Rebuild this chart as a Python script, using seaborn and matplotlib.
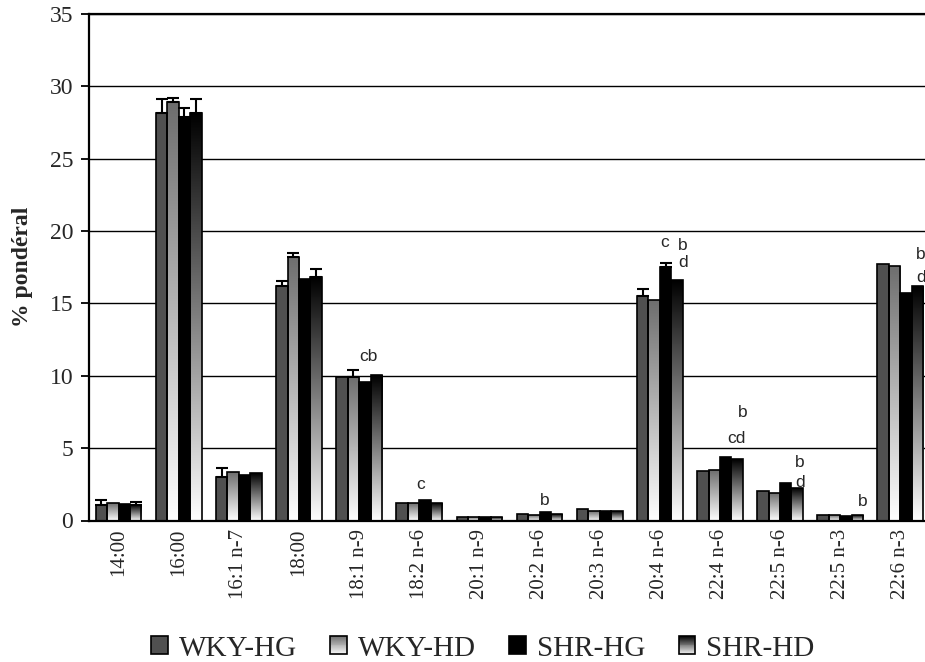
import numpy as np
import pandas as pd
import matplotlib
matplotlib.use('Agg')
import matplotlib.pyplot as plt
import seaborn as sns
from matplotlib.patches import Rectangle
from matplotlib.colors import LinearSegmentedColormap
from matplotlib.legend_handler import HandlerBase

acides = ['14:00', '16:00', '16:1 n-7', '18:00', '18:1 n-9', '18:2 n-6', '20:1 n-9',
          '20:2 n-6', '20:3 n-6', '20:4 n-6', '22:4 n-6', '22:5 n-6', '22:5 n-3', '22:6 n-3']
groupes = ['WKY-HG', 'WKY-HD', 'SHR-HG', 'SHR-HD']

# valeurs (% pondéral)
wky_hg = [1.07, 28.18, 3.03, 16.23, 9.94, 1.19, 0.25, 0.45, 0.80, 15.51, 3.44, 2.06, 0.40, 17.71]
wky_hd = [1.23, 28.94, 3.37, 18.23, 9.94, 1.19, 0.25, 0.37, 0.68, 15.24, 3.49, 1.88, 0.40, 17.61]
shr_hg = [1.14, 27.86, 3.14, 16.67, 9.59, 1.42, 0.25, 0.57, 0.68, 17.50, 4.41, 2.57, 0.30, 15.74]
shr_hd = [1.07, 28.14, 3.26, 16.85, 10.06, 1.23, 0.25, 0.45, 0.68, 16.62, 4.23, 2.23, 0.35, 16.23]

# erreurs (seule la partie haute est visible)
err_wky_hg = [0.35, 0.92, 0.60, 0.34, 0, 0, 0, 0, 0, 0.47, 0, 0, 0, 0]
err_wky_hd = [0, 0.28, 0, 0.24, 0.46, 0, 0, 0, 0, 0, 0, 0, 0, 0]
err_shr_hg = [0, 0.67, 0, 0, 0, 0, 0, 0, 0, 0.28, 0, 0, 0, 0]
err_shr_hd = [0.23, 0.99, 0, 0.53, 0, 0, 0, 0, 0, 0, 0, 0, 0, 0]

# lettres de signification
lettres = ['cb', 'c', 'b', 'c', 'b', 'd', 'cd', 'b', 'b', 'd', 'b', 'b', 'd']
lettres_acide = [4, 5, 7, 9, 9, 9, 10, 10, 11, 11, 12, 13, 13]
lettres_dx = [0.16, 0.03, 0.09, 0.08, 0.38, 0.38, 0.28, 0.38, 0.33, 0.33, 0.38, 0.34, 0.34]
lettres_y = [11.3, 2.52, 1.35, 19.18, 18.97, 17.8, 5.7, 7.43, 4.04, 2.66, 1.28, 18.35, 16.76]

couleurs = {'WKY-HG': '#505050', 'WKY-HD': '#6e6e6e', 'SHR-HG': '#000000', 'SHR-HD': '#000000'}
degrades = ['WKY-HD', 'SHR-HD']

df = pd.DataFrame({
    'acide': acides * 4,
    'groupe': np.repeat(groupes, len(acides)),
    'valeur': wky_hg + wky_hd + shr_hg + shr_hd,
})
erreurs = [err_wky_hg, err_wky_hd, err_shr_hg, err_shr_hd]

sns.set_style('white')
serif = 'Liberation Serif'

fig = plt.figure(figsize=(9.25, 6.62), dpi=100)
ax = fig.add_axes([88.5 / 925, 1 - 520.5 / 662, 1 - 88.5 / 925, 506.5 / 662])

sns.barplot(data=df, x='acide', y='valeur', hue='groupe', order=acides, hue_order=groupes,
            palette=couleurs, width=0.76, saturation=1, edgecolor='black', linewidth=1.2,
            errorbar=None, legend=False, ax=ax)

# dégradés (couleur en haut -> blanc en bas)
grad = np.linspace(0, 1, 256).reshape(-1, 1)
for g, cont in zip(groupes, ax.containers):
    for p in cont.patches:
        p.set_zorder(2.1)
    if g not in degrades:
        continue
    cmap = LinearSegmentedColormap.from_list(g, ['white', couleurs[g]])
    for p in cont.patches:
        x0, w, h = p.get_x(), p.get_width(), p.get_height()
        ax.imshow(grad, extent=[x0, x0 + w, 0, h], origin='lower', cmap=cmap,
                  aspect='auto', zorder=2, interpolation='bilinear')
        p.set_facecolor('none')

# barres d'erreur
for cont, err in zip(ax.containers, erreurs):
    xs = [p.get_x() + p.get_width() / 2 for p in cont.patches]
    hs = [p.get_height() for p in cont.patches]
    sel = [i for i, e in enumerate(err) if e > 0]
    ax.errorbar([xs[i] for i in sel], [hs[i] for i in sel],
                yerr=[[0] * len(sel), [err[i] for i in sel]], fmt='none', ecolor='black',
                elinewidth=1.5, capsize=4.3, capthick=1.5, zorder=3)

for t, i, dx, y in zip(lettres, lettres_acide, lettres_dx, lettres_y):
    ax.text(i + dx, y, t, ha='center', va='center', fontsize=12.5, family='Liberation Sans')

ax.set_xlim(-0.5, 13.41)
ax.set_ylim(0, 35)
ax.set_yticks(range(0, 36, 5))
ax.yaxis.grid(True, color='black', linewidth=1)
ax.set_axisbelow(True)
for s in ['left', 'bottom', 'top']:
    ax.spines[s].set_color('black')
    ax.spines[s].set_linewidth(1.6)
ax.spines['right'].set_visible(False)

ax.set_xticks(range(len(acides)))
ax.set_xticklabels(acides, rotation=90, fontsize=15, family=serif)
ax.set_xticks(np.arange(0.5, 13, 1), minor=True)
ax.tick_params(axis='x', which='major', length=0, pad=6)
ax.tick_params(axis='x', which='minor', length=6, width=1.3, color='black', direction='out')
ax.tick_params(axis='y', length=6, width=1.3, color='black', direction='out', pad=5, left=True)
for lab in ax.get_yticklabels():
    lab.set_fontsize(17)
    lab.set_family(serif)

ax.set_xlabel('')
ax.set_ylabel('% pondéral', fontsize=17, fontweight='bold', family=serif, labelpad=12)


class HandlerDegrade(HandlerBase):
    def __init__(self, haut):
        super().__init__()
        self.haut = haut

    def create_artists(self, legend, orig_handle, xdescent, ydescent, width, height,
                       fontsize, trans):
        cmap = LinearSegmentedColormap.from_list('leg', ['white', self.haut])
        n = 20
        arts = []
        for k in range(n):
            r = Rectangle((-xdescent, -ydescent + height * k / n), width, height / n + 0.3,
                          facecolor=cmap((k + 0.5) / n), linewidth=0, transform=trans)
            arts.append(r)
        arts.append(Rectangle((-xdescent, -ydescent), width, height, fill=False,
                              edgecolor='black', linewidth=1.2, transform=trans))
        return arts


handles = [Rectangle((0, 0), 1, 1, facecolor=couleurs[g], edgecolor='black', linewidth=1.2)
           for g in groupes]
hmap = {handles[i]: HandlerDegrade(couleurs[groupes[i]]) for i in range(4)
        if groupes[i] in degrades}
fig.legend(handles, groupes, handler_map=hmap, loc='center', bbox_to_anchor=(0.522, 0.02),
           ncol=4, frameon=False, prop={'family': serif, 'size': 21},
           handlelength=0.57, handleheight=0.57, handletextpad=0.37, columnspacing=1.15)

fig.savefig('out.png', dpi=100)
